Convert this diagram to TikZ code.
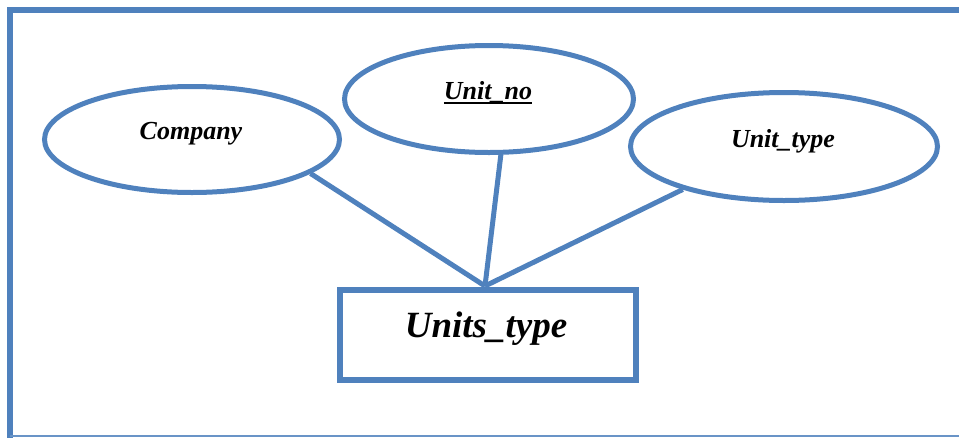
\documentclass[tikz,border=0pt]{standalone}
\usepackage{fontspec}
\setmainfont{Liberation Serif}
\usetikzlibrary{shapes.geometric,positioning}
\definecolor{erblue}{HTML}{4F81BD}

\newcommand{\keyattr}[1]{\setbox0\hbox{#1}\rlap{\rule[-4.5pt]{\wd0}{2pt}}\box0}

\tikzset{
  attr/.style={ellipse,draw=erblue,line width=5pt,inner sep=0pt},
  attrtext/.style={font=\fontsize{26}{28}\selectfont\bfseries\itshape,inner sep=0pt},
  entity/.style={rectangle,draw=erblue,line width=6pt,minimum width=296pt,minimum height=90pt,inner sep=0pt},
  link/.style={draw=erblue,line width=5pt}
}

\begin{document}
\begin{tikzpicture}[x=1pt,y=-1pt]
  \useasboundingbox (0,0) rectangle (959,437);

  %Frame round the diagram
  \draw[erblue,line width=6pt] (975,10) -- (10,10) -- (10,445);
  \draw[erblue!85,line width=1.5pt] (10,436) -- (975,436);

  %Entity
  \node[entity] (ent) at (488,335) {};
  \node[font=\fontsize{37}{40}\selectfont\bfseries\itshape,inner sep=0pt] (entlbl) at (486,329) {Units\_type};
  \coordinate (hub) at (485,286);

  %Attributes
  \node[attr,minimum width=295pt,minimum height=106pt] (company) at (192,139.5) {};
  \node[attr,minimum width=289pt,minimum height=107pt] (unitno) at (489,99) {};
  \node[attr,minimum width=307pt,minimum height=108pt] (unittype) at (784,146.5) {};

  \node[attrtext] (companylbl) at (191,134) {Company};
  \node[attrtext] (unitnolbl) at (488,93) {\keyattr{Unit\_no}};
  \node[attrtext] (unittypelbl) at (783,141) {Unit\_type};

  %Links to the entity
  \draw[link] (company.344) -- (hub);
  \draw[link] (unitno.282) -- (hub);
  \draw[link] (unittype.203) -- (hub);
\end{tikzpicture}
\end{document}
